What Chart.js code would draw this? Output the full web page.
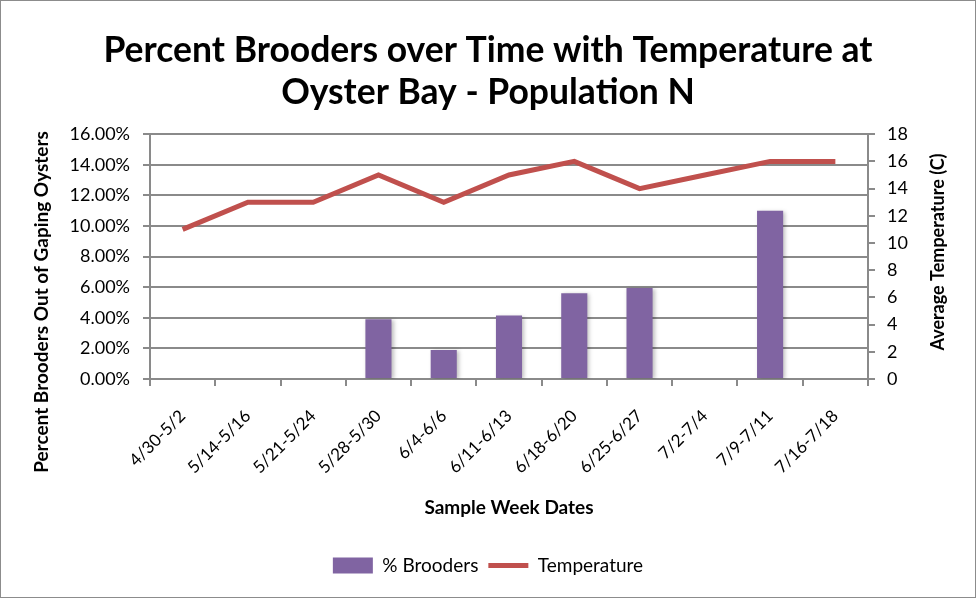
<!DOCTYPE html>
<html>
<head>
<meta charset="utf-8">
<script src="https://cdn.jsdelivr.net/npm/chart.js@4.4.1/dist/chart.umd.min.js"></script>
<style>
  html, body { margin: 0; padding: 0; background: #fff; }
  .frame {
    width: 976px; height: 598px; box-sizing: border-box;
    border: 1px solid #8c8c8c; position: relative;
  }
  canvas { display: block; }
</style>
</head>
<body>
<div class="frame"><canvas id="chart" width="974" height="596"></canvas></div>
<script>
const weeks = ["4/30-5/2", "5/14-5/16", "5/21-5/24", "5/28-5/30", "6/4-6/6", "6/11-6/13",
  "6/18-6/20", "6/25-6/27", "7/2-7/4", "7/9-7/11", "7/16-7/18"];
const brooders = [null, null, null, 3.9, 1.9, 4.15, 5.6, 5.95, null, 11.0, null];
const temperature = [11, 13, 13, 15, 13, 15, 16, 14, 15, 16, 16];

const FONT = "Lato, 'Open Sans', sans-serif";
const gridGray = "#8a8a8a";

// both y titles read bottom-to-top and sit where Excel put them, so draw them by hand
function sideTitle(c, text, x, y, size) {
  c.save();
  c.translate(x, y);
  c.rotate(-Math.PI / 2);
  c.font = "bold " + size + "px " + FONT;
  c.fillStyle = "#000";
  c.textAlign = "center";
  c.textBaseline = "middle";
  c.fillText(text, 0, 0);
  c.restore();
}
const axisTitles = {
  id: "axisTitles",
  afterDraw(chart) {
    sideTitle(chart.ctx, "Percent Brooders Out of Gaping Oysters", 41, 301, 19);
    sideTitle(chart.ctx, "Average Temperature (C)", 937, 251, 18);
  },
};

// soft drop shadow on the bars only
const barShadow = {
  id: "barShadow",
  beforeDatasetDraw(chart, args) {
    if (args.meta.type !== "bar") return;
    const c = chart.ctx;
    c.save();
    c.shadowColor = "rgba(0,0,0,0.25)";
    c.shadowBlur = 4;
    c.shadowOffsetX = 2;
    c.shadowOffsetY = 1;
  },
  afterDatasetDraw(chart, args) {
    if (args.meta.type !== "bar") return;
    chart.ctx.restore();
  },
};

const ctx = document.getElementById("chart");
new Chart(ctx, {
  data: {
    labels: weeks,
    datasets: [
      {
        type: "line",
        label: "Temperature",
        data: temperature,
        yAxisID: "yTemp",
        borderColor: "#C0504D",
        backgroundColor: "#C0504D",
        borderWidth: 5,
        pointRadius: 0,
        tension: 0,
        order: 0,
      },
      {
        type: "bar",
        label: "% Brooders",
        data: brooders,
        yAxisID: "y",
        backgroundColor: "#8064A2",
        categoryPercentage: 1,
        barPercentage: 0.4,
        order: 1,
      },
    ],
  },
  plugins: [axisTitles, barShadow],
  options: {
    responsive: false,
    animation: false,
    layout: { padding: { left: 0, right: 0, top: 10, bottom: 12 } },
    plugins: {
      title: {
        display: true,
        text: ["Percent Brooders over Time with Temperature at", "Oyster Bay - Population N"],
        color: "#000",
        font: { family: FONT, size: 35.5, weight: "bold", lineHeight: 1.2 },
        padding: { top: 18, bottom: 20 },
      },
      legend: {
        position: "bottom",
        reverse: true,
        labels: {
          color: "#000",
          font: { family: FONT, size: 19 },
          usePointStyle: true,
          pointStyleWidth: 40,
          boxHeight: 16,
          padding: 10,
          generateLabels(chart) {
            const items = Chart.defaults.plugins.legend.labels.generateLabels(chart);
            items.forEach((it) => {
              if (it.text === "Temperature") { it.pointStyle = "line"; it.lineWidth = 5; it.strokeStyle = "#C0504D"; }
              else { it.pointStyle = "rect"; it.lineWidth = 0; }
            });
            return items;
          },
        },
      },
      tooltip: { enabled: false },
    },
    scales: {
      x: {
        offset: true,
        afterFit: (s) => { s.height = 167; },
        grid: { offset: true, drawOnChartArea: false, color: gridGray, lineWidth: 2, tickLength: 7 },
        border: { color: gridGray, width: 2 },
        ticks: { color: "#000", font: { family: FONT, size: 17 }, minRotation: 45, maxRotation: 45, padding: 20 },
        title: {
          display: true, text: "Sample Week Dates", color: "#000",
          font: { family: FONT, size: 19, weight: "bold" }, padding: { top: 10, bottom: 27 },
        },
      },
      y: {
        position: "left",
        min: 0, max: 16,
        afterFit: (s) => { s.width = 149; },
        ticks: {
          stepSize: 2, color: "#000", font: { family: FONT, size: 18 }, padding: 13,
          callback: (v) => v.toFixed(2) + "%",
        },
        grid: { color: gridGray, lineWidth: 2, tickLength: 7 },
        border: { color: gridGray, width: 2 },
      },
      yTemp: {
        position: "right",
        min: 0, max: 18,
        afterFit: (s) => { s.width = 107; },
        ticks: { stepSize: 2, color: "#000", font: { family: FONT, size: 18 }, padding: 12 },
        grid: { drawOnChartArea: false, color: gridGray, lineWidth: 2, tickLength: 7 },
        border: { color: gridGray, width: 2 },
      },
    },
  },
});
</script>
</body>
</html>
